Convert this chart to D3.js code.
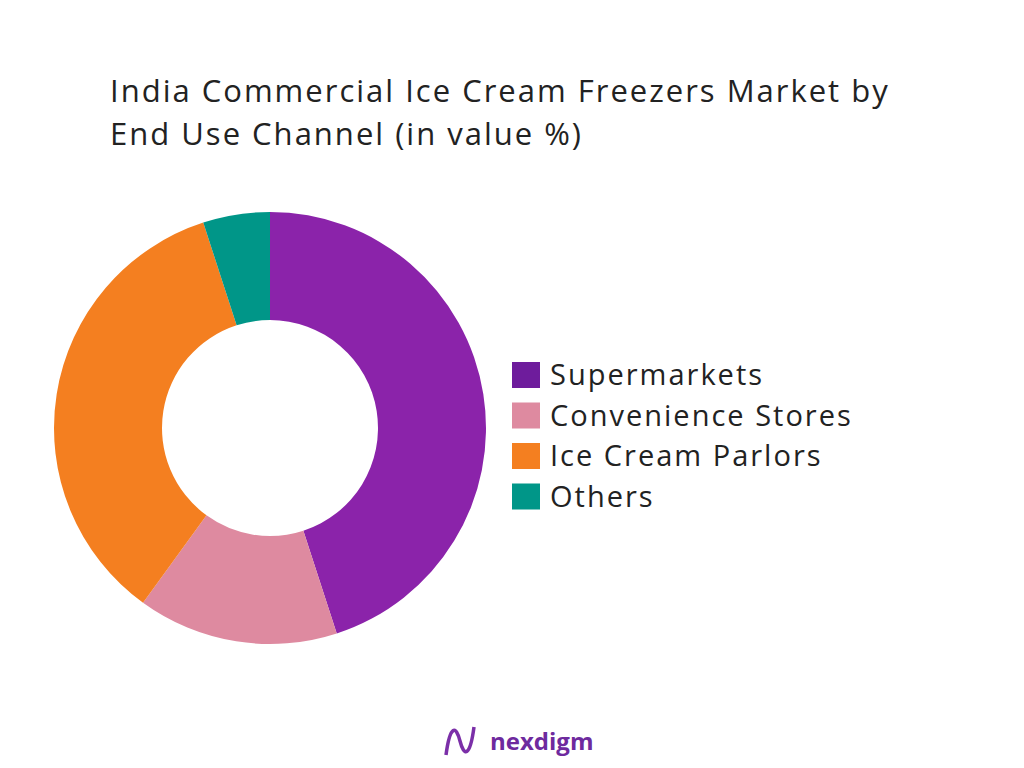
<!DOCTYPE html>
<html><head><meta charset="utf-8">
<script src="https://cdn.jsdelivr.net/npm/d3@7"></script>
<style>body{margin:0;background:#fff}svg{display:block}</style>
</head><body>
<svg id="chart" width="1024" height="768"></svg>
<script>
const categories = ['Supermarkets', 'Convenience Stores', 'Ice Cream Parlors', 'Others'];
const values = [45, 15, 35, 5];
const sliceColors = ['#8B23AA', '#DE8AA0', '#F47F20', '#009688'];
const legendColors = ['#6E1C9C', '#DE8AA0', '#F47F20', '#009688'];

const svg = d3.select('#chart');
const font = '"Open Sans", sans-serif';

// title
svg.append('text').attr('x', 110).attr('y', 102)
  .style('font-family', font).style('font-size', '31px').style('letter-spacing', '2px').style('fill', '#222')
  .selectAll('tspan').data(['India Commercial Ice Cream Freezers Market by', 'End Use Channel (in value %)'])
  .enter().append('tspan').attr('x', 110).attr('dy', (d, i) => i ? 43 : 0).text((d) => d);

const pie = d3.pie().sort(null).value((d) => d);
const arc = d3.arc().innerRadius(108).outerRadius(216);
svg.append('g').attr('transform', 'translate(270,428)')
  .selectAll('path').data(pie(values)).enter().append('path')
  .attr('d', arc).style('fill', (d, i) => sliceColors[i]);

const legend = svg.append('g').attr('transform', 'translate(512,362)');
const rows = legend.selectAll('g').data(categories).enter().append('g')
  .attr('transform', (d, i) => `translate(0,${i * 40.5})`);
rows.append('rect').attr('width', 28).attr('height', 26).style('fill', (d, i) => legendColors[i]);
rows.append('text').attr('x', 38).attr('y', 23).text((d) => d)
  .style('font-family', font).style('font-size', '29px').style('letter-spacing', '2px').style('fill', '#222');

// logo
const logo = svg.append('g').attr('transform', 'translate(444,725)');
logo.append('path').attr('d', 'M2,30 C6,0 12,0 16,16 C20,32 26,32 30,2')
  .style('fill', 'none').style('stroke', '#7B2FA8').style('stroke-width', 3.5);
logo.append('text').attr('x', 46).attr('y', 25).text('nexdigm')
  .style('font-family', font).style('font-weight', 'bold').style('font-size', '24px').style('fill', '#6E2A9E');
</script>
</body></html>
